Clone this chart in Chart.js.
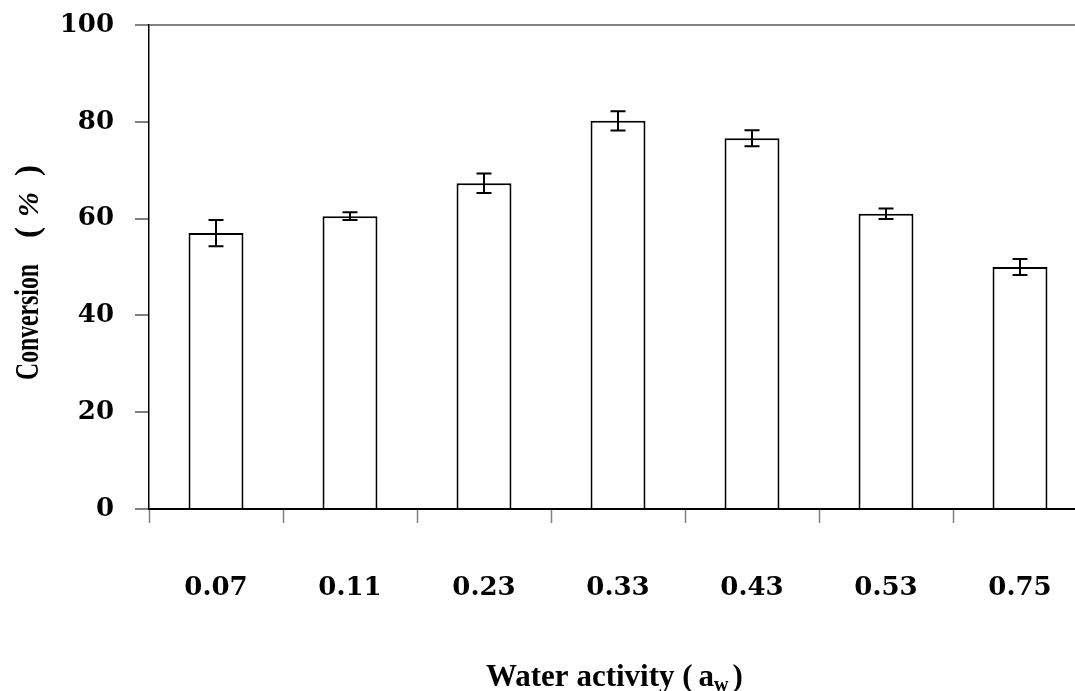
<!DOCTYPE html>
<html>
<head>
<meta charset="utf-8">
<title>Conversion vs water activity</title>
<script src="https://cdn.jsdelivr.net/npm/chart.js@4/dist/chart.umd.min.js"></script>
<style>
    html, body { margin: 0; padding: 0; background: #fff; }
    #wrap { width: 1075px; height: 691px; overflow: hidden; }
    #chart { display: block; }
</style>
</head>
<body>
<div id="wrap"><canvas id="chart" width="1100" height="691"></canvas></div>
<script>
// chart data
const categories = ['0.07', '0.11', '0.23', '0.33', '0.43', '0.53', '0.75'];
const conversion = [57.0, 60.5, 67.3, 80.2, 76.6, 61.0, 50.0];
const errors = [2.7, 0.8, 2.0, 2.0, 1.65, 1.1, 1.65];
const yMin = 0;
const yMax = 100;
const yStep = 20;

document.addEventListener('DOMContentLoaded', function() {
    const ctx = document.getElementById('chart').getContext('2d');

    // error bars drawn on top of the bars
    const errorBars = {
        id: 'errorBars',
        afterDatasetsDraw(chart) {
            const c = chart.ctx;
            const y = chart.scales.y;
            const meta = chart.getDatasetMeta(0);
            c.save();
            c.strokeStyle = '#000';
            c.lineWidth = 2;
            meta.data.forEach((bar, i) => {
                const top = y.getPixelForValue(conversion[i] + errors[i]);
                const bottom = y.getPixelForValue(conversion[i] - errors[i]);
                c.beginPath();
                c.moveTo(bar.x, top);
                c.lineTo(bar.x, bottom);
                c.moveTo(bar.x - 7.5, top);
                c.lineTo(bar.x + 7.5, top);
                c.moveTo(bar.x - 7.5, bottom);
                c.lineTo(bar.x + 7.5, bottom);
                c.stroke();
            });
            c.restore();
        }
    };

    // axis titles (the x title has a subscript, so both are drawn by hand)
    const axisTitles = {
        id: 'axisTitles',
        afterDraw(chart) {
            const c = chart.ctx;
            c.save();
            c.fillStyle = '#000';
            c.textBaseline = 'alphabetic';

            // x title
            c.font = 'bold 31px "Liberation Serif"';
            let x = 486;
            const base = 686;
            const part1 = 'Water activity (';
            c.fillText(part1, x, base);
            x += c.measureText(part1).width + 6;
            c.fillText('a', x, base);
            x += c.measureText('a').width;
            c.font = 'bold 20px "Liberation Serif"';
            c.fillText('w', x, base + 5);
            x += c.measureText('w').width + 4;
            c.font = 'bold 31px "Liberation Serif"';
            c.fillText(')', x, base);

            // y title, rotated and a little condensed
            c.translate(38, 380);
            c.rotate(-Math.PI / 2);
            c.font = 'bold 33px "Liberation Serif"';
            const word = 'Conversion';
            const sx = 116 / c.measureText(word).width;
            c.save();
            c.scale(sx, 1);
            c.fillText(word, 0, 0);
            c.restore();
            c.fillText('(', 142, 0);
            c.font = 'italic bold 30px "Liberation Serif"';
            c.fillText('%', 163, 0);
            c.font = 'bold 33px "Liberation Serif"';
            c.fillText(')', 204, 0);
            c.restore();
        }
    };

    new Chart(ctx, {
        type: 'bar',
        data: {
            labels: categories,
            datasets: [{
                label: 'Conversion',
                data: conversion,
                backgroundColor: '#fff',
                borderColor: '#000',
                borderWidth: 2,
                barPercentage: 0.41,
                categoryPercentage: 1.0
            }]
        },
        options: {
            responsive: false,
            devicePixelRatio: 1,
            animation: false,
            layout: {
                padding: { left: 0, right: 13, top: 25, bottom: 0 }
            },
            scales: {
                x: {
                    grid: {
                        offset: true,
                        drawOnChartArea: false,
                        tickLength: 14,
                        tickColor: '#808080',
                        tickWidth: 1.5
                    },
                    border: { color: '#000', width: 2 },
                    ticks: {
                        color: '#000',
                        padding: 50,
                        maxRotation: 0,
                        font: { family: '"DejaVu Serif"', size: 26, weight: 'bold' }
                    },
                    afterFit(scale) {
                        scale.height = 182;
                        scale.paddingLeft = 0;
                        scale.paddingRight = 0;
                    }
                },
                y: {
                    min: yMin,
                    max: yMax,
                    grid: {
                        drawOnChartArea: true,
                        color: c => (c.tick && c.tick.value === yMax) ? '#808080' : 'rgba(0,0,0,0)',
                        lineWidth: 2,
                        tickLength: 14,
                        tickColor: '#808080',
                        tickWidth: 2
                    },
                    border: { color: '#000', width: 1.5 },
                    ticks: {
                        stepSize: yStep,
                        color: '#000',
                        padding: 21,
                        font: { family: '"DejaVu Serif"', size: 26, weight: 'bold' }
                    },
                    afterFit(scale) {
                        scale.width = 149;
                        scale.paddingTop = 0;
                        scale.paddingBottom = 0;
                    }
                }
            },
            plugins: {
                legend: { display: false },
                tooltip: { enabled: false },
                title: { display: false }
            }
        },
        plugins: [errorBars, axisTitles]
    });
});
</script>
</body>
</html>
